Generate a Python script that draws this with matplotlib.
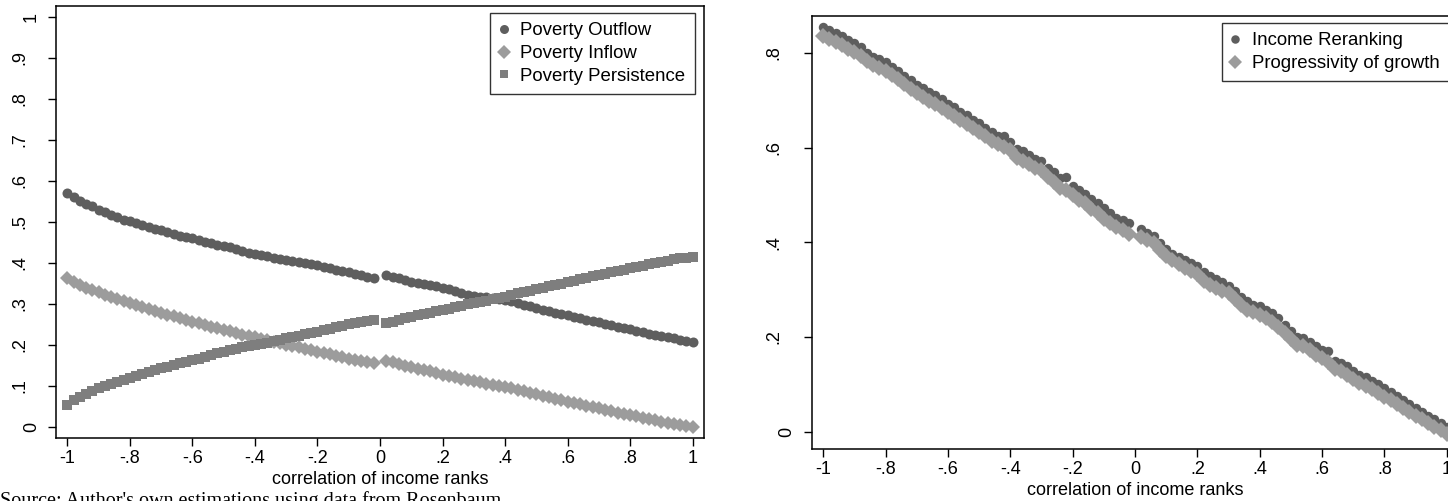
import matplotlib
matplotlib.use("Agg")
import matplotlib.pyplot as plt
import numpy as np

plt.rcParams['font.family'] = ['Liberation Sans', 'DejaVu Sans']

# correlation of income ranks (no point at exactly 0)
rho_neg = [-1.00, -0.98, -0.96, -0.94, -0.92, -0.90, -0.88, -0.86, -0.84, -0.82,
           -0.80, -0.78, -0.76, -0.74, -0.72, -0.70, -0.68, -0.66, -0.64, -0.62,
           -0.60, -0.58, -0.56, -0.54, -0.52, -0.50, -0.48, -0.46, -0.44, -0.42,
           -0.40, -0.38, -0.36, -0.34, -0.32, -0.30, -0.28, -0.26, -0.24, -0.22,
           -0.20, -0.18, -0.16, -0.14, -0.12, -0.10, -0.08, -0.06, -0.04, -0.02]
rho_pos = [0.02, 0.04, 0.06, 0.08, 0.10, 0.12, 0.14, 0.16, 0.18, 0.20,
           0.22, 0.24, 0.26, 0.28, 0.30, 0.32, 0.34, 0.36, 0.38, 0.40,
           0.42, 0.44, 0.46, 0.48, 0.50, 0.52, 0.54, 0.56, 0.58, 0.60,
           0.62, 0.64, 0.66, 0.68, 0.70, 0.72, 0.74, 0.76, 0.78, 0.80,
           0.82, 0.84, 0.86, 0.88, 0.90, 0.92, 0.94, 0.96, 0.98, 1.00]
rho = rho_neg + rho_pos

outflow = [.570, .560, .552, .545, .538, .530, .524, .518, .512, .506,
           .503, .498, .493, .488, .484, .480, .475, .470, .466, .463,
           .460, .455, .452, .449, .445, .442, .438, .434, .430, .425,
           .422, .419, .416, .413, .410, .407, .405, .402, .399, .397,
           .394, .391, .388, .384, .381, .377, .374, .370, .367, .364,
           .370, .367, .363, .358, .354, .351, .348, .346, .343, .340,
           .336, .331, .327, .322, .320, .318, .316, .314, .312, .310,
           .307, .303, .298, .294, .290, .286, .282, .278, .276, .273,
           .269, .266, .262, .259, .256, .252, .248, .245, .241, .238,
           .234, .231, .228, .225, .222, .219, .216, .213, .210, .208]

inflow = [.363, .354, .346, .340, .334, .329, .323, .318, .313, .307,
          .302, .297, .292, .288, .283, .279, .274, .270, .265, .261,
          .257, .253, .249, .245, .241, .237, .233, .229, .225, .222,
          .219, .215, .211, .207, .204, .200, .197, .194, .190, .187,
          .184, .180, .177, .173, .170, .167, .164, .161, .158, .156,
          .162, .158, .154, .150, .146, .142, .139, .136, .132, .128,
          .125, .122, .118, .115, .112, .109, .106, .103, .100, .097,
          .094, .090, .087, .083, .080, .076, .073, .069, .066, .062,
          .059, .056, .052, .049, .046, .042, .039, .035, .032, .029,
          .026, .022, .019, .016, .013, .010, .007, .005, .002, .000]

persistence = [.054, .066, .074, .081, .088, .094, .099, .104, .109, .114,
               .119, .124, .129, .134, .138, .143, .147, .151, .155, .159,
               .163, .167, .171, .175, .180, .184, .187, .190, .194, .197,
               .200, .203, .206, .210, .213, .216, .219, .222, .226, .229,
               .232, .236, .240, .243, .247, .251, .253, .256, .258, .261,
               .254, .257, .261, .265, .269, .272, .275, .278, .282, .285,
               .289, .292, .295, .299, .302, .305, .308, .311, .315, .318,
               .322, .326, .329, .332, .336, .340, .343, .347, .350, .354,
               .357, .360, .364, .368, .371, .374, .378, .381, .384, .387,
               .390, .393, .397, .400, .403, .406, .409, .411, .413, .414]

reranking = [.855, .848, .842, .835, .827, .820, .812, .800, .791, .788,
             .780, .771, .762, .752, .742, .733, .725, .717, .712, .703,
             .692, .685, .676, .668, .659, .651, .642, .633, .625, .624,
             .611, .598, .592, .585, .576, .572, .558, .548, .535, .538,
             .518, .510, .502, .492, .482, .472, .462, .452, .447, .440,
             .428, .420, .413, .398, .385, .375, .368, .362, .356, .350,
             .338, .328, .322, .316, .308, .298, .285, .276, .268, .265,
             .258, .250, .240, .225, .212, .200, .197, .190, .180, .172,
             .170, .150, .145, .138, .128, .120, .115, .108, .100, .092,
             .083, .075, .066, .058, .050, .042, .034, .026, .018, .010]

progressivity = [.836, .830, .823, .816, .809, .802, .794, .782, .774, .768,
                 .762, .753, .744, .734, .724, .716, .707, .699, .692, .684,
                 .675, .667, .659, .650, .642, .633, .624, .615, .607, .602,
                 .596, .578, .571, .565, .558, .552, .538, .528, .515, .510,
                 .500, .490, .482, .470, .461, .450, .441, .433, .425, .418,
                 .412, .405, .398, .384, .372, .362, .354, .346, .340, .334,
                 .318, .310, .304, .298, .292, .280, .268, .258, .252, .246,
                 .240, .232, .222, .208, .195, .184, .180, .172, .162, .155,
                 .148, .132, .128, .120, .111, .103, .097, .090, .082, .074,
                 .066, .058, .050, .042, .034, .026, .019, .011, .003, -.004]

xticks = [-1, -0.8, -0.6, -0.4, -0.2, 0, 0.2, 0.4, 0.6, 0.8, 1]
xticklabels = ['-1', '-.8', '-.6', '-.4', '-.2', '0', '.2', '.4', '.6', '.8', '1']
yticks_l = [0, .1, .2, .3, .4, .5, .6, .7, .8, .9, 1]
yticklabels_l = ['0', '.1', '.2', '.3', '.4', '.5', '.6', '.7', '.8', '.9', '1']
yticks_r = [0, .2, .4, .6, .8]
yticklabels_r = ['0', '.2', '.4', '.6', '.8']

DARK = '#5e5e5e'
MID = '#7e7e7e'
LIGHT = '#9c9c9c'
FS = 13

W, H = 1448, 501
fig = plt.figure(figsize=(W / 100, H / 100), dpi=100)


def px_axes(left, top, right, bottom):
    return fig.add_axes([left / W, 1 - bottom / H, (right - left) / W, (bottom - top) / H])


def style_axes(ax, yticks, ylabels, short_pad, long_pad):
    for side in ['left', 'right', 'top', 'bottom']:
        ax.spines[side].set_linewidth(1.1)
    ax.set_xticks(xticks)
    ax.set_xticklabels(xticklabels, fontsize=FS)
    ax.set_yticks(yticks)
    ax.set_yticklabels(ylabels, fontsize=FS, rotation=90, va='center')
    ax.tick_params(direction='out', length=5.8, width=1.0, pad=3)
    # stata puts one-character labels closer to the axis
    for tick, lab in zip(ax.yaxis.get_major_ticks(), ylabels):
        tick.set_pad(short_pad if len(lab) == 1 else long_pad)
    ax.set_xlabel('correlation of income ranks', fontsize=FS, labelpad=3)


def add_legend(ax, left_px, top_px):
    leg = ax.legend(loc='upper left', bbox_to_anchor=(left_px / W, 1 - top_px / H),
                    bbox_transform=fig.transFigure, fontsize=13.4, frameon=True,
                    fancybox=False, borderpad=0.5, labelspacing=0.32,
                    handlelength=0.46, handletextpad=0.66, borderaxespad=0,
                    markerscale=0.9)
    leg.get_frame().set_edgecolor('black')
    leg.get_frame().set_linewidth(1.0)
    return leg


# poverty dynamics
ax1 = px_axes(56, 6, 704, 438)
ax1.plot(rho, outflow, 'o', ms=7.2, mew=0, color=DARK, label='Poverty Outflow')
ax1.plot(rho, inflow, 'D', ms=7.4, mew=0, color=LIGHT, label='Poverty Inflow')
ax1.plot(rho, persistence, 's', ms=7.0, mew=0, color=MID, label='Poverty Persistence')
ax1.set_xlim(-1.036, 1.036)
ax1.set_ylim(-0.0268, 1.0268)
style_axes(ax1, yticks_l, yticklabels_l, 5.8, 14.0)
add_legend(ax1, 490, 12.7)

# decomposition
ax2 = px_axes(811.7, 16, 1458, 449)
ax2.plot(rho, reranking, 'o', ms=6.8, mew=0, color=DARK, label='Income Reranking')
ax2.plot(rho, progressivity, 'D', ms=8.0, mew=0, color=LIGHT, label='Progressivity of growth')
ax2.set_xlim(-1.037, 1.036)
ax2.set_ylim(-0.0365, 0.878)
style_axes(ax2, yticks_r, yticklabels_r, 6.3, 15.6)
add_legend(ax2, 1221.7, 22.7)

fig.text(0, 1 - 506 / H, "Source: Author's own estimations using data from Rosenbaum",
         fontsize=14.5, family='Liberation Serif', ha='left', va='baseline')

fig.savefig('out.png', dpi=100)
